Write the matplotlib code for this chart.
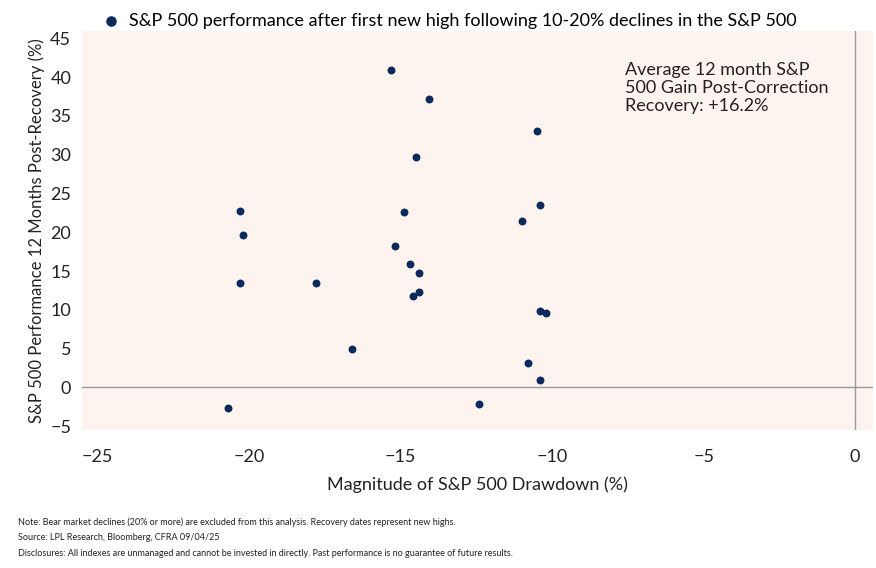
import matplotlib
matplotlib.use("Agg")
import matplotlib.pyplot as plt

drawdown = [-15.3, -14.05, -10.5, -14.5, -20.3, -14.9, -10.4, -11.0, -20.2, -15.2, -14.7, -14.4,
            -20.3, -17.8, -14.4, -14.6, -10.4, -10.2, -16.6, -10.8, -10.4, -12.4, -20.7]
perf = [40.9, 37.2, 33.1, 29.7, 22.7, 22.6, 23.5, 21.4, 19.7, 18.2, 15.9, 14.7,
        13.5, 13.5, 12.3, 11.8, 9.9, 9.6, 4.9, 3.2, 0.9, -2.2, -2.7]
xticks = [-25, -20, -15, -10, -5, 0]
yticks = [-5, 0, 5, 10, 15, 20, 25, 30, 35, 40, 45]

plt.rcParams['font.family'] = ['Lato', 'DejaVu Sans']
navy = '#0b2a5b'
fig = plt.figure(figsize=(8.76, 5.68), dpi=100)
ax = fig.add_axes([0.094, 0.243, 0.903, 0.703])
ax.set_facecolor('#fdf4f0')
ax.scatter(drawdown, perf, s=22, color=navy, zorder=3, label='S&P 500 performance after first new high following 10-20% declines in the S&P 500')
ax.set_xlim(-25.5, 0.6)
ax.set_ylim(-5.5, 46)
ax.axhline(0, color='#999999', lw=1)
ax.axvline(0, color='#999999', lw=1)
for s in ax.spines.values():
    s.set_visible(False)
ax.set_xticks(xticks)
ax.set_yticks(yticks)
ax.tick_params(length=0, labelsize=13, colors='#222222')
ax.tick_params(axis='x', pad=14)
ax.tick_params(axis='y', pad=8)
ax.set_xlabel('Magnitude of S&P 500 Drawdown (%)', fontsize=13, color='#222222', labelpad=8)
ax.set_ylabel('S&P 500 Performance 12 Months Post-Recovery (%)', fontsize=12, color='#222222')
ax.text(-7.6, 42, 'Average 12 month S&P\n500 Gain Post-Correction\nRecovery: +16.2%', fontsize=13,
        va='top', color='#222222', linespacing=1.15)
fig.legend(loc='upper left', bbox_to_anchor=(0.092, 1.0), frameon=False, fontsize=13,
           handletextpad=0.0, markerscale=1.4, borderaxespad=0.3)
notes = ["Note: Bear market declines (20% or more) are excluded from this analysis. Recovery dates represent new highs.",
         "Source: LPL Research, Bloomberg, CFRA 09/04/25",
         "Disclosures: All indexes are unmanaged and cannot be invested in directly. Past performance is no guarantee of future results."]
for i, n in enumerate(notes):
    fig.text(0.02, 0.075 - i * 0.0265, n, fontsize=6.5, color='#222222')
fig.savefig('out.png')
